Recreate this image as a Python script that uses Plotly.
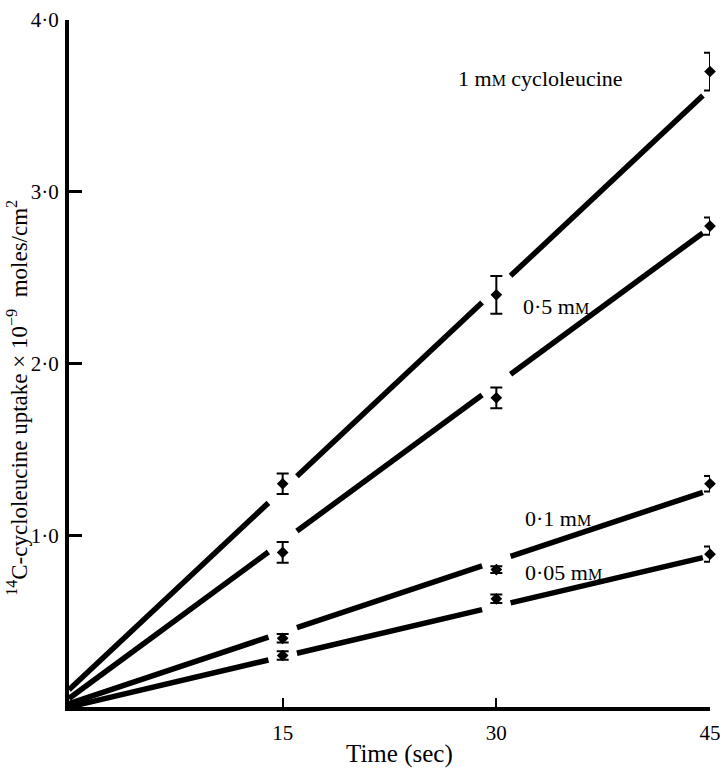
import plotly.graph_objects as go

# ---- data ----
time_s = [15, 30, 45]
series_names = ["1 mM", "0.5 mM", "0.1 mM", "0.05 mM"]
uptake_1mM = [1.30, 2.40, 3.70]
uptake_05mM = [0.90, 1.80, 2.80]
uptake_01mM = [0.40, 0.80, 1.30]
uptake_005mM = [0.30, 0.63, 0.89]
err_1mM = [0.06, 0.11, 0.11]
err_05mM = [0.06, 0.06, 0.05]
err_01mM = [0.025, 0.02, 0.045]
err_005mM = [0.025, 0.025, 0.045]
# drawn fit lines: value at t=0 and at t=44.5
line_start = [0.10, 0.05, 0.02, 0.00]
line_end = [3.56, 2.76, 1.25, 0.87]
line_t_end = 44.5
gap_half = 1.0

x_tick_vals = [15, 30, 45]
x_tick_text = ["15", "30", "45"]
y_tick_vals = [1, 2, 3, 4]
y_tick_text = ["1·0", "2·0", "3·0", "4·0"]

values = [uptake_1mM, uptake_05mM, uptake_01mM, uptake_005mM]
errors = [err_1mM, err_05mM, err_01mM, err_005mM]

FONT = "Liberation Serif, Times New Roman, serif"

fig = go.Figure()

for name, y0, y1 in zip(series_names, line_start, line_end):
    slope = (y1 - y0) / line_t_end
    xs, ys = [], []
    bounds = [0] + [v for t in time_s[:-1] for v in (t - gap_half, t + gap_half)] + [line_t_end]
    for a, b in zip(bounds[0::2], bounds[1::2]):
        xs += [a, b, None]
        ys += [y0 + slope * a, y0 + slope * b, None]
    fig.add_trace(go.Scatter(x=xs, y=ys, mode="lines",
                             line=dict(color="black", width=5.5),
                             showlegend=False, hoverinfo="skip", cliponaxis=False))

for name, vals, errs in zip(series_names, values, errors):
    fig.add_trace(go.Scatter(x=time_s, y=vals, mode="markers", name=name,
                             marker=dict(symbol="diamond", size=9, color="black"),
                             error_y=dict(type="data", array=errs, visible=True,
                                          color="black", thickness=2, width=6),
                             showlegend=False, cliponaxis=False))

small_m = "m<span style='font-size:16px'>M</span>"
labels = [
    ("1 " + small_m + " cycloleucine", 27.2, 3.66),
    ("0·5 " + small_m, 31.7, 2.33),
    ("0·1 " + small_m, 31.9, 1.10),
    ("0·05 " + small_m, 31.9, 0.785),
]
for txt, lx, ly in labels:
    fig.add_annotation(x=lx, y=ly, text=txt, showarrow=False, xanchor="left",
                       yanchor="middle", font=dict(family=FONT, size=22, color="black"))

fig.add_annotation(xref="paper", yref="paper", x=0.515, y=-0.0684, text="Time (sec)",
                   showarrow=False, xanchor="center", yanchor="middle",
                   font=dict(family=FONT, size=25, color="black"))
fig.add_annotation(xref="paper", yref="paper", x=-0.0796, y=0.45,
                   text="<sup>14</sup>C-cycloleucine uptake × 10<sup>−9</sup>\u00a0\u00a0moles/cm<sup>2</sup>",
                   textangle=-90, showarrow=False, xanchor="center", yanchor="middle",
                   font=dict(family=FONT, size=23, color="black"))

fig.update_layout(
    width=727, height=769,
    margin=dict(l=69, r=17, t=20, b=62, autoexpand=False),
    paper_bgcolor="white", plot_bgcolor="white",
    font=dict(family=FONT, size=21, color="black"),
    xaxis=dict(range=[0, 45], tickvals=x_tick_vals, ticktext=x_tick_text,
               ticks="inside", ticklen=9, tickwidth=2, tickcolor="black",
               showline=True, linewidth=4, linecolor="black",
               showgrid=False, zeroline=False, ticklabelstandoff=4, automargin=False),
    yaxis=dict(range=[0, 4], tickvals=y_tick_vals, ticktext=y_tick_text,
               ticks="inside", ticklen=13, tickwidth=3, tickcolor="black",
               showline=True, linewidth=4, linecolor="black",
               showgrid=False, zeroline=False, ticklabelstandoff=2, automargin=False),
)

fig.write_html("out.html", config={"displayModeBar": False},
               post_script="document.body.style.margin='0';")
